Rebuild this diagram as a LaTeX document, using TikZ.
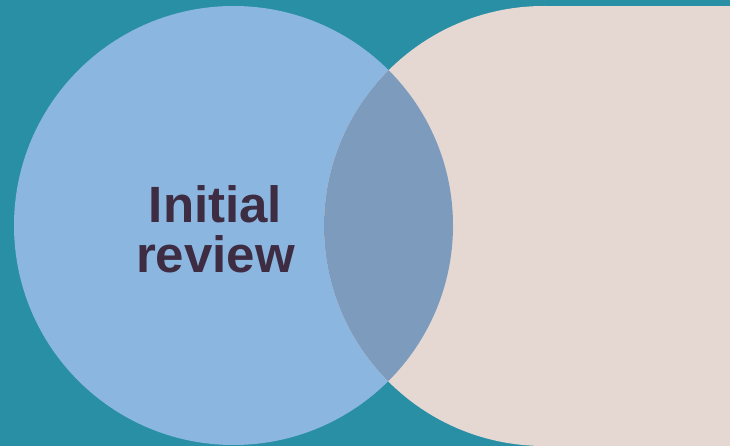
\documentclass[tikz,border=0pt]{standalone}
\usepackage{fontspec}
\setmainfont{Liberation Sans}
\usepackage{xcolor}
\usepackage{tikz}

\definecolor{bgteal}{HTML}{298FA5}
\definecolor{stageblue}{HTML}{8BB6E0}
\definecolor{stagesand}{HTML}{E5D8D3}
\definecolor{overlapblue}{HTML}{7D9BBC}
\definecolor{labelplum}{HTML}{3D2C42}

\begin{document}
\begin{tikzpicture}[
  x=1pt, y=1pt,
  stage/.style={draw=none},
  label/.style={inner sep=0pt, align=center, text=labelplum, font=\fontsize{51}{50}\selectfont\bfseries}
]
\useasboundingbox (0,0) rectangle (730,446);
\clip (0,0) rectangle (730,446);
\fill[bgteal] (0,0) rectangle (730,446);

% first stage circle and the next stage, cut off at the right edge
\fill[stage, stageblue] (233.5,220.5) circle[radius=219.5];
\fill[stage, stagesand] (544,220) circle[radius=220];
\fill[stage, stagesand] (544,0) rectangle (730,440);

% shared part of both stages
\begin{scope}
  \clip (233.5,220.5) circle[radius=219.5];
  \fill[stage, overlapblue] (544,220) circle[radius=220];
\end{scope}

\node[label] (review) at (215.5,217) {Initial\\review};
\end{tikzpicture}
\end{document}
